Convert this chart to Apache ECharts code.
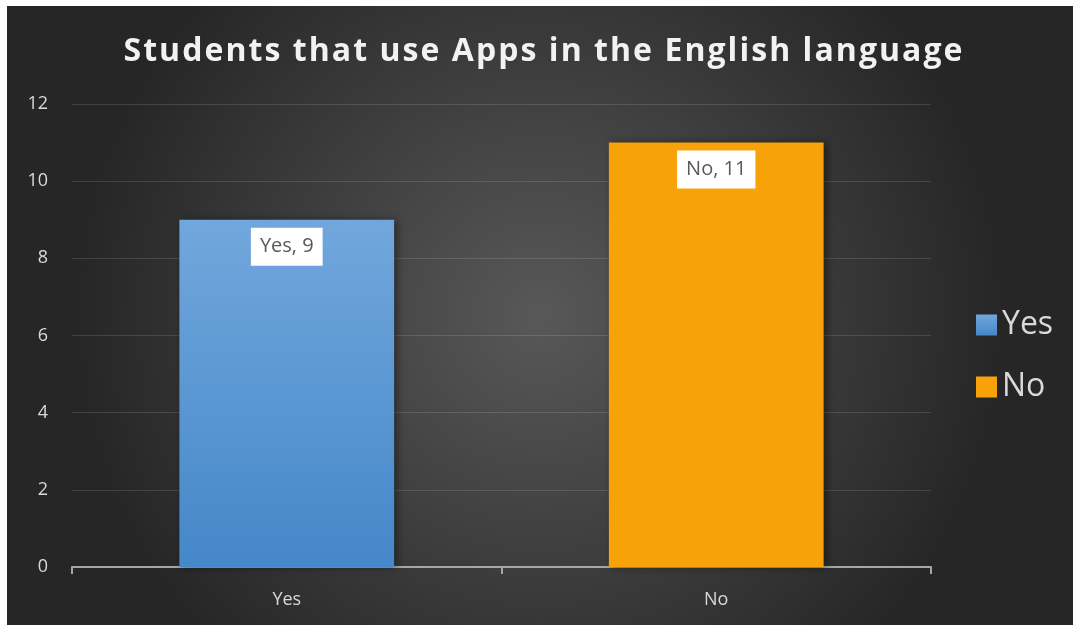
<!DOCTYPE html>
<html>
<head>
<meta charset="utf-8">
<script src="https://cdn.jsdelivr.net/npm/echarts@6/dist/echarts.min.js"></script>
<style>
  html, body { margin: 0; padding: 0; background: #ffffff; }
  #chart { position: absolute; left: 7px; top: 6px; width: 1066px; height: 619px; }
</style>
</head>
<body>
<div id="chart"></div>
<script>
// Survey answers
const categories = ['Yes', 'No'];
const yesValues = [9, '-'];
const noValues = ['-', 11];
const yTicks = { min: 0, max: 12, interval: 2 };
const titleText = 'Students that use Apps in the English language';

const el = document.getElementById('chart');
const chart = echarts.init(el, null, { renderer: 'canvas' });

// Letter-spaced title: lay each glyph out along a centred line.
const titleFont = 'bold 32px "Open Sans"';
const titleWidth = 839;
const measureCtx = document.createElement('canvas').getContext('2d');
measureCtx.font = titleFont;
const glyphs = Array.from(titleText);
const glyphWidths = glyphs.map(ch => measureCtx.measureText(ch).width);
const glyphSum = glyphWidths.reduce((a, b) => a + b, 0);
const spacing = (titleWidth - glyphSum) / (glyphs.length - 1);
let cursor = (el.clientWidth - titleWidth) / 2 + 3;
const titleGlyphs = glyphs.map((ch, i) => {
  const g = {
    type: 'text',
    x: cursor,
    y: 46,
    silent: true,
    style: {
      text: ch,
      font: titleFont,
      fill: '#f2f2f2',
      textVerticalAlign: 'middle',
      textAlign: 'left',
      shadowColor: 'rgba(0,0,0,0.6)',
      shadowBlur: 3,
      shadowOffsetX: 1,
      shadowOffsetY: 2
    }
  };
  cursor += glyphWidths[i] + spacing;
  return g;
});

const labelStyle = {
  show: true,
  position: 'insideTop',
  distance: 8,
  formatter: '{a}, {c}',
  backgroundColor: '#ffffff',
  color: '#595959',
  fontFamily: 'Open Sans',
  fontSize: 20,
  lineHeight: 24,
  padding: [7, 9, 7, 9]
};

chart.setOption({
  backgroundColor: {
    type: 'radial', x: 0.5, y: 0.5, r: 0.75,
    colorStops: [
      { offset: 0, color: '#585858' },
      { offset: 1, color: '#262626' }
    ]
  },
  graphic: [{ type: 'group', children: titleGlyphs }],
  legend: {
    orient: 'vertical',
    left: 964,
    top: 298,
    itemWidth: 21,
    itemHeight: 21,
    itemGap: 30,
    icon: 'rect',
    textStyle: { color: '#d9d9d9', fontFamily: 'Open Sans', fontSize: 32 },
    data: ['Yes', 'No']
  },
  grid: { left: 65, top: 98, right: 142, bottom: 58, containLabel: false },
  xAxis: {
    type: 'category',
    data: categories,
    axisLine: { lineStyle: { color: '#a6a6a6', width: 2 } },
    axisTick: { show: true, length: 7, lineStyle: { color: '#a6a6a6', width: 2 } },
    axisLabel: { color: '#d9d9d9', fontFamily: 'Open Sans', fontSize: 18, margin: 24 }
  },
  yAxis: {
    type: 'value',
    min: yTicks.min,
    max: yTicks.max,
    interval: yTicks.interval,
    axisLine: { show: false },
    axisTick: { show: false },
    axisLabel: { color: '#d9d9d9', fontFamily: 'Open Sans', fontSize: 18, margin: 24 },
    splitLine: { lineStyle: { color: 'rgba(255,255,255,0.13)', width: 1 } }
  },
  series: [
    {
      name: 'Yes',
      type: 'bar',
      stack: 'answers',
      barWidth: '50%',
      data: yesValues,
      itemStyle: {
        color: {
          type: 'linear', x: 0, y: 0, x2: 0, y2: 1,
          colorStops: [
            { offset: 0, color: '#71a7dc' },
            { offset: 1, color: '#4587c9' }
          ]
        },
        shadowColor: 'rgba(0,0,0,0.45)',
        shadowBlur: 8,
        shadowOffsetX: 3
      },
      label: labelStyle
    },
    {
      name: 'No',
      type: 'bar',
      stack: 'answers',
      barWidth: '50%',
      data: noValues,
      itemStyle: {
        color: '#f8a20a',
        shadowColor: 'rgba(0,0,0,0.45)',
        shadowBlur: 8,
        shadowOffsetX: 3
      },
      label: labelStyle
    }
  ]
});
</script>
</body>
</html>
